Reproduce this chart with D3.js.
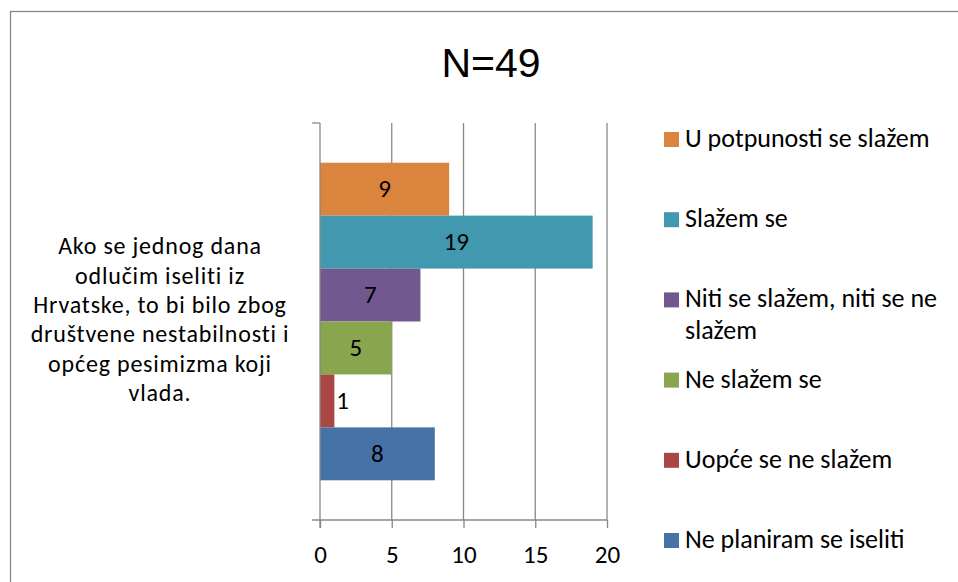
<!DOCTYPE html>
<html>
<head>
<meta charset="utf-8">
<script src="https://cdn.jsdelivr.net/npm/d3@7"></script>
<style>
  body { margin: 0; background: #fff; }
  svg { display: block; font-family: Carlito, Lato, "Open Sans", sans-serif; }
</style>
</head>
<body>
<div id="chart"></div>
<script>
// chart data
const title = 'N=49';
const categoryLines = ['Ako se jednog dana', 'odlučim iseliti iz', 'Hrvatske, to bi bilo zbog',
  'društvene nestabilnosti i', 'općeg pesimizma koji', 'vlada.'];
const series = ['U potpunosti se slažem', 'Slažem se', 'Niti se slažem, niti se ne slažem',
  'Ne slažem se', 'Uopće se ne slažem', 'Ne planiram se iseliti'];
const values = [9, 19, 7, 5, 1, 8];
const colors = ['#DB843D', '#4198AF', '#71588F', '#89A54E', '#AA4643', '#4572A7'];
const xTicks = [0, 5, 10, 15, 20];
const legendRows = [['U potpunosti se slažem'], ['Slažem se'], ['Niti se slažem, niti se ne', 'slažem'],
  ['Ne slažem se'], ['Uopće se ne slažem'], ['Ne planiram se iseliti']];

const width = 958, height = 582;
const plot = { left: 320, right: 607, top: 123, bottom: 520 };
const axisColor = '#898989';

const svg = d3.select('#chart').append('svg')
  .attr('width', width)
  .attr('height', height);

// outer frame (runs off the right / bottom edges in the reference)
svg.append('rect')
  .attr('x', 10.5).attr('y', 11.5)
  .attr('width', 980).attr('height', 600)
  .attr('fill', 'none')
  .attr('stroke', axisColor)
  .attr('stroke-width', 1.3);

svg.append('text')
  .attr('x', 491)
  .attr('y', 77)
  .attr('text-anchor', 'middle')
  .attr('font-family', '"Liberation Sans", Arial, sans-serif')
  .attr('font-size', 41)
  .text(title);

const x = d3.scaleLinear().domain([0, 20]).range([plot.left, plot.right]);

// bars sit in the middle 80% of the one category band
const inset = (plot.bottom - plot.top) * 0.1;
const y = d3.scaleBand()
  .domain(series)
  .range([plot.top + inset, plot.bottom - inset]);

// vertical gridlines
svg.append('g')
  .selectAll('line')
  .data(xTicks.slice(1))
  .join('line')
  .attr('x1', d => x(d)).attr('x2', d => x(d))
  .attr('y1', plot.top).attr('y2', plot.bottom)
  .attr('stroke', axisColor)
  .attr('stroke-width', 1.3);

// bars
svg.append('g')
  .selectAll('rect')
  .data(values)
  .join('rect')
  .attr('x', x(0))
  .attr('y', (d, i) => y(series[i]))
  .attr('width', d => x(d) - x(0))
  .attr('height', y.bandwidth())
  .attr('fill', (d, i) => colors[i]);

// value labels (the tiny bar gets its label just outside)
svg.append('g')
  .selectAll('text')
  .data(values)
  .join('text')
  .attr('x', d => d < 2 ? x(d) + 2 : (x(0) + x(d)) / 2)
  .attr('y', (d, i) => y(series[i]) + y.bandwidth() / 2)
  .attr('dy', '0.33em')
  .attr('text-anchor', d => d < 2 ? 'start' : 'middle')
  .attr('font-size', 25)
  .attr('fill', '#000')
  .text(d => d);

// x axis
const xAxis = svg.append('g')
  .attr('transform', `translate(0,${plot.bottom})`)
  .call(d3.axisBottom(x).tickValues(xTicks).tickSize(8).tickPadding(17));
xAxis.select('.domain').remove();
xAxis.selectAll('line').attr('stroke', axisColor).attr('stroke-width', 1.3);
xAxis.selectAll('text').attr('font-size', 25).attr('fill', '#000')
  .attr('font-family', 'Carlito, Lato, "Open Sans", sans-serif');

// y axis: one category, ticks at the band edges
const yAxis = svg.append('g');
yAxis.append('line')
  .attr('x1', plot.left - 8).attr('x2', plot.right)
  .attr('y1', plot.bottom).attr('y2', plot.bottom);
yAxis.append('line')
  .attr('x1', plot.left).attr('x2', plot.left)
  .attr('y1', plot.top).attr('y2', plot.bottom + 8);
yAxis.append('line')
  .attr('x1', plot.left - 8).attr('x2', plot.left)
  .attr('y1', plot.top).attr('y2', plot.top);
yAxis.selectAll('line').attr('stroke', axisColor).attr('stroke-width', 1.3);

// category label
const lineH = 29.4;
const midY = 320.5;
svg.append('text')
  .attr('text-anchor', 'middle')
  .attr('font-size', 24)
  .attr('letter-spacing', 0.8)
  .selectAll('tspan')
  .data(categoryLines)
  .join('tspan')
  .attr('x', 160)
  .attr('y', (d, i) => midY + (i - (categoryLines.length - 1) / 2) * lineH)
  .attr('dy', '0.3em')
  .text(d => d);

// legend
const legendY = d3.scalePoint().domain(series).range([139, 540]);
const legend = svg.append('g')
  .selectAll('g')
  .data(series)
  .join('g')
  .attr('transform', d => `translate(664,${legendY(d)})`);
legend.append('rect')
  .attr('x', 0).attr('y', -7)
  .attr('width', 15).attr('height', 15)
  .attr('fill', (d, i) => colors[i]);
legend.append('text')
  .attr('font-size', 26)
  .selectAll('tspan')
  .data((d, i) => legendRows[i])
  .join('tspan')
  .attr('x', 21)
  .attr('y', (d, j) => j * 32)
  .attr('dy', '0.31em')
  .text(d => d);
</script>
</body>
</html>
